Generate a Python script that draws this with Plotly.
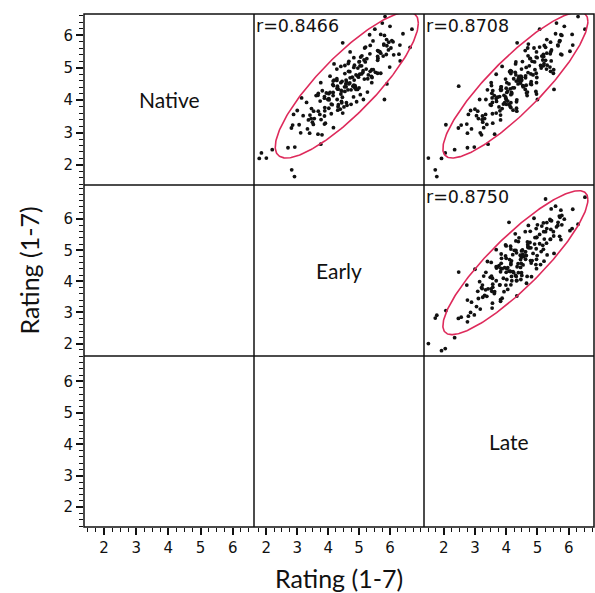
import numpy as np
import plotly.graph_objects as go
from plotly.subplots import make_subplots

# mean ratings per item (1-7 scale); the three lists are aligned item by item
native = [2.20, 1.85, 2.53, 2.47, 3.24, 2.55, 2.98, 3.23, 2.64, 3.14,
          2.99, 3.68, 2.93, 3.32, 3.56, 2.95, 3.43, 3.26, 3.93, 3.15,
          3.52, 3.74, 3.11, 3.58, 3.40, 4.07, 3.29, 3.66, 3.88, 3.25,
          3.72, 3.54, 4.21, 3.43, 3.80, 4.02, 3.39, 3.86, 3.67, 4.34,
          3.56, 3.92, 4.14, 3.51, 3.97, 3.79, 4.45, 3.66, 4.02, 4.24,
          3.60, 4.06, 3.87, 4.54, 3.75, 4.11, 4.32, 3.69, 4.15, 3.96,
          4.62, 3.84, 4.20, 4.41, 3.77, 4.24, 4.05, 4.71, 3.92, 4.29,
          4.50, 3.86, 4.32, 4.14, 4.80, 4.01, 4.37, 4.59, 3.95, 4.41,
          4.22, 4.88, 4.09, 4.45, 4.66, 4.02, 4.48, 4.30, 4.96, 4.17,
          4.53, 4.74, 4.10, 4.57, 4.38, 5.04, 4.25, 4.61, 4.82, 4.19,
          4.65, 4.46, 5.12, 4.33, 4.69, 4.91, 4.27, 4.73, 4.54, 5.20,
          4.41, 4.78, 4.99, 4.35, 4.81, 4.62, 5.28, 4.50, 4.86, 5.07,
          4.43, 4.89, 4.70, 5.37, 4.58, 4.96, 5.18, 4.54, 5.01, 4.83,
          5.49, 4.71, 5.08, 5.29, 4.66, 5.13, 4.94, 5.61, 4.83, 5.19,
          5.41, 4.78, 5.24, 5.06, 5.73, 4.94, 5.31, 5.53, 4.89, 5.36,
          5.18, 5.84, 5.06, 5.43, 5.64, 5.02, 5.50, 5.33, 6.00, 5.23,
          5.61, 5.83, 5.21, 5.69, 5.51, 6.19, 5.42, 5.79, 6.02, 5.40,
          5.87, 5.70, 6.38, 5.63, 6.03, 6.28, 5.68, 6.19, 6.05, 6.58,
          5.55, 4.62, 5.70, 4.38, 5.45, 4.75, 5.35, 4.28, 5.80, 4.85,
          5.77, 4.02, 4.43, 4.33, 4.50, 1.64, 2.21, 2.37]
early = [1.77, 2.82, 2.70, 2.19, 3.06, 2.92, 3.40, 2.85, 3.76, 2.81,
         3.11, 3.00, 3.80, 3.49, 2.88, 3.67, 3.45, 3.88, 3.30, 4.17,
         3.19, 3.46, 3.33, 4.10, 3.77, 3.14, 3.91, 3.68, 4.10, 3.52,
         4.39, 3.41, 3.68, 3.55, 4.32, 3.99, 3.36, 4.13, 3.89, 4.31,
         3.73, 4.59, 3.61, 3.88, 3.74, 4.51, 4.17, 3.53, 4.29, 4.06,
         4.47, 3.88, 4.74, 3.76, 4.02, 3.88, 4.64, 4.31, 3.67, 4.43,
         4.19, 4.61, 4.02, 4.88, 3.89, 4.16, 4.02, 4.78, 4.44, 3.81,
         4.57, 4.33, 4.74, 4.16, 5.02, 4.03, 4.29, 4.16, 4.92, 4.58,
         3.94, 4.70, 4.46, 4.87, 4.28, 5.14, 4.15, 4.42, 4.28, 5.04,
         4.70, 4.06, 4.82, 4.59, 5.00, 4.41, 5.27, 4.28, 4.54, 4.41,
         5.17, 4.83, 4.19, 4.95, 4.71, 5.13, 4.54, 5.40, 4.41, 4.67,
         4.53, 5.30, 4.96, 4.32, 5.08, 4.84, 5.25, 4.67, 5.53, 4.54,
         4.80, 4.66, 5.42, 5.09, 4.45, 5.23, 5.00, 5.41, 4.83, 5.70,
         4.71, 4.98, 4.85, 5.61, 5.28, 4.65, 5.41, 5.18, 5.60, 5.01,
         5.88, 4.90, 5.16, 5.03, 5.80, 5.46, 4.83, 5.60, 5.36, 5.78,
         5.20, 6.06, 5.08, 5.35, 5.21, 5.99, 5.67, 5.05, 5.82, 5.60,
         6.03, 5.45, 6.33, 5.36, 5.63, 5.51, 6.29, 5.96, 5.34, 6.12,
         5.89, 6.32, 5.75, 6.65, 5.70, 6.00, 5.90, 6.71, 6.42, 5.84,
         5.95, 4.58, 5.80, 4.86, 5.70, 4.95, 5.60, 4.44, 6.10, 5.12,
         4.47, 5.82, 4.30, 4.90, 5.90, 2.91, 2.00, 1.84]
late = [1.93, 1.73, 2.76, 2.35, 2.07, 2.98, 2.76, 2.56, 3.42, 2.47,
        3.17, 2.86, 3.21, 3.25, 2.79, 3.63, 3.11, 2.74, 3.56, 3.28,
        3.05, 3.87, 2.89, 3.56, 3.23, 3.55, 3.57, 3.09, 3.91, 3.38,
        3.00, 3.82, 3.54, 3.31, 4.13, 3.15, 3.82, 3.49, 3.80, 3.82,
        3.34, 4.15, 3.62, 3.24, 4.05, 3.77, 3.53, 4.34, 3.35, 4.02,
        3.68, 3.99, 4.00, 3.52, 4.33, 3.79, 3.40, 4.22, 3.93, 3.69,
        4.50, 3.52, 4.18, 3.84, 4.15, 4.17, 3.68, 4.49, 3.95, 3.57,
        4.38, 4.09, 3.85, 4.67, 3.68, 4.34, 4.00, 4.32, 4.33, 3.84,
        4.65, 4.11, 3.72, 4.53, 4.24, 4.00, 4.81, 3.83, 4.49, 4.15,
        4.46, 4.47, 3.98, 4.80, 4.26, 3.87, 4.68, 4.39, 4.15, 4.97,
        3.98, 4.64, 4.30, 4.61, 4.62, 4.14, 4.95, 4.41, 4.02, 4.83,
        4.54, 4.31, 5.12, 4.13, 4.79, 4.45, 4.76, 4.78, 4.29, 5.10,
        4.56, 4.17, 4.98, 4.70, 4.46, 5.29, 4.31, 4.97, 4.64, 4.96,
        4.97, 4.49, 5.31, 4.77, 4.39, 5.21, 4.92, 4.69, 5.51, 4.52,
        5.19, 4.86, 5.17, 5.19, 4.71, 5.52, 4.99, 4.61, 5.42, 5.14,
        4.91, 5.72, 4.74, 5.41, 5.07, 5.40, 5.43, 4.96, 5.78, 5.26,
        4.89, 5.71, 5.44, 5.22, 6.04, 5.07, 5.75, 5.42, 5.75, 5.78,
        5.30, 6.13, 5.61, 5.26, 6.11, 5.86, 5.66, 6.52, 5.58, 6.30,
        5.45, 4.48, 5.65, 4.21, 5.30, 4.62, 5.20, 4.05, 5.70, 4.70,
        4.35, 5.00, 2.48, 5.53, 4.09, 1.78, 1.51, 2.05]

names = ['Native', 'Early', 'Late']
# correlations printed in the upper panels: (row, col) -> r
r_text = {(1, 2): 0.8466, (1, 3): 0.8708, (2, 3): 0.8750}
major_ticks = [2, 3, 4, 5, 6]

data = {'Native': native, 'Early': early, 'Late': late}
ranges = {'Native': [1.38, 6.66], 'Early': [1.6, 7.1], 'Late': [1.37, 6.81]}

ink = '#111111'
ell_color = '#de2a5b'
tick_font = dict(family='DejaVu Sans', size=15, color=ink)

fig = make_subplots(rows=3, cols=3, horizontal_spacing=0, vertical_spacing=0)


def axref(letter, idx):
    return f'{letter} domain' if idx == 1 else f'{letter}{idx} domain'


def density_ellipse(x, y, r, level=5.991):
    # 95% normal density ellipse from sample means/sds and the stated r
    x = np.asarray(x)
    y = np.asarray(y)
    sx, sy = x.std(ddof=1), y.std(ddof=1)
    cov = np.array([[sx * sx, r * sx * sy], [r * sx * sy, sy * sy]])
    L = np.linalg.cholesky(cov)
    t = np.linspace(0, 2 * np.pi, 241)
    circ = np.sqrt(level) * np.vstack([np.cos(t), np.sin(t)])
    pts = L @ circ
    return (x.mean() + pts[0]).tolist(), (y.mean() + pts[1]).tolist()


for row in range(1, 4):
    for col in range(1, 4):
        yname = names[row - 1]
        xname = names[col - 1]
        idx = (row - 1) * 3 + col
        if (row, col) in r_text:
            r = r_text[(row, col)]
            fig.add_trace(go.Scatter(x=data[xname], y=data[yname], mode='markers',
                                     marker=dict(size=3.8, color=ink), hoverinfo='skip'),
                          row=row, col=col)
            ex, ey = density_ellipse(data[xname], data[yname], r)
            fig.add_trace(go.Scatter(x=ex, y=ey, mode='lines',
                                     line=dict(color=ell_color, width=1.6), hoverinfo='skip'),
                          row=row, col=col)
            fig.add_annotation(text=f'r={r:.4f}', xref=axref('x', idx), yref=axref('y', idx),
                               x=0.0, y=1.0, xanchor='left', yanchor='top', showarrow=False,
                               font=dict(family='DejaVu Sans', size=17.5, color=ink))
        else:
            # empty panel: invisible trace so the axes are laid out
            fig.add_trace(go.Scatter(x=[], y=[], mode='markers', hoverinfo='skip'),
                          row=row, col=col)
            if row == col:
                fig.add_annotation(text=xname, xref=axref('x', idx), yref=axref('y', idx),
                                   x=0.5, y=0.5, showarrow=False,
                                   font=dict(family='Lato', size=21, color=ink))

        bottom = row == 3
        left = col == 1
        xa = dict(range=ranges[xname], autorange=False, showgrid=False, zeroline=False,
                  showline=False)
        if bottom:
            xa.update(tickmode='array', tickvals=major_ticks, ticks='outside', ticklen=7,
                      tickwidth=1.5, tickcolor=ink, showticklabels=True, tickfont=tick_font,
                      minor=dict(tick0=1.5, dtick=0.25, ticks='outside', ticklen=4,
                                 tickwidth=1.2, tickcolor=ink))
        else:
            xa.update(ticks='', showticklabels=False)
        fig.update_xaxes(row=row, col=col, **xa)

        ya = dict(range=ranges[yname], autorange=False, showgrid=False, zeroline=False,
                  showline=False)
        if left:
            ya.update(tickmode='array', tickvals=major_ticks, ticks='outside', ticklen=7,
                      tickwidth=1.5, tickcolor=ink, showticklabels=True, tickfont=tick_font,
                      minor=dict(tick0=1.6, dtick=0.2, ticks='outside', ticklen=4,
                                 tickwidth=1.2, tickcolor=ink))
        else:
            ya.update(ticks='', showticklabels=False)
        fig.update_yaxes(row=row, col=col, **ya)

# frame and panel dividers
frame = dict(color=ink, width=1.5)
fig.add_shape(type='rect', xref='paper', yref='paper', x0=0, x1=1, y0=0, y1=1, line=frame)
for p in (1 / 3, 2 / 3):
    fig.add_shape(type='line', xref='paper', yref='paper', x0=p, x1=p, y0=0, y1=1, line=frame)
    fig.add_shape(type='line', xref='paper', yref='paper', x0=0, x1=1, y0=p, y1=p, line=frame)

fig.add_annotation(text='Rating (1-7)', xref='paper', yref='paper', x=0.5, y=0,
                   yshift=-51, xanchor='center', yanchor='middle', showarrow=False,
                   font=dict(family='Lato', size=25, color=ink))
fig.add_annotation(text='Rating (1-7)', xref='paper', yref='paper', x=0, y=0.5,
                   xshift=-56, textangle=-90, xanchor='center', yanchor='middle', showarrow=False,
                   font=dict(family='Lato', size=25, color=ink))

fig.update_layout(width=595, height=593, showlegend=False,
                  margin=dict(l=84, r=1, t=14, b=66, autoexpand=False),
                  plot_bgcolor='white', paper_bgcolor='white')

# drop the default page margin so the 595x593 figure fills the window exactly
fig.write_html("out.html", config={'displayModeBar': False},
               post_script="document.body.style.margin='0';document.body.style.overflow='hidden';")
